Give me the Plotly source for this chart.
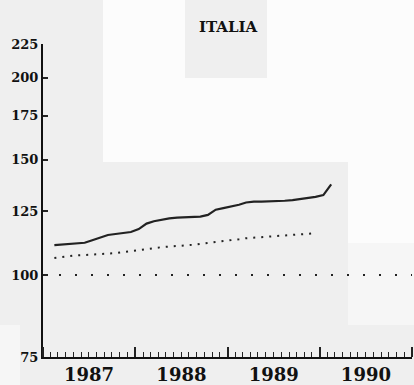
import pandas as pd
import plotly.graph_objects as go

# monthly index values (mid-month)
solid_start = "1987-01-15"
solid_vals = [111.1, 111.3, 111.5, 111.8, 112.0, 113.0, 114.2, 115.1, 115.5, 116.0,
              116.3, 117.5, 119.8, 120.8, 121.5, 122.0, 122.3, 122.5, 122.6, 122.8,
              123.5, 125.8, 126.5, 127.2, 128.0, 129.0, 129.4, 129.4, 129.5, 129.5,
              129.8, 130.1, 130.5, 130.9, 131.6, 132.4, 137.5]

dotted_start = "1987-01-15"
dotted_vals = [106.2, 106.6, 107.0, 107.2, 107.3, 107.5, 107.6, 107.7, 108.0, 108.4,
               108.8, 109.1, 109.4, 110.0, 110.3, 110.5, 110.7, 110.9, 111.2, 111.6,
               111.9, 112.2, 112.6, 113.0, 113.4, 113.8, 114.0, 114.2, 114.4, 114.6,
               114.8, 115.0, 115.3, 115.5, 115.8]

ref_level = 100
y_ticks = [75, 100, 125, 150, 175, 200, 225]
x_range = ["1987-01-01", "1991-01-01"]
title = "ITALIA"

solid_x = pd.date_range(solid_start, periods=len(solid_vals), freq="MS") + pd.Timedelta(days=14)
dotted_x = pd.date_range(dotted_start, periods=len(dotted_vals), freq="MS") + pd.Timedelta(days=14)

ink = "#222"
font = "DejaVu Serif"

fig = go.Figure()
fig.add_trace(go.Scatter(x=solid_x, y=solid_vals, mode="lines",
                         line=dict(color=ink, width=2.2), showlegend=False))
fig.add_trace(go.Scatter(x=dotted_x, y=dotted_vals, mode="lines",
                         line=dict(color=ink, width=2, dash="2px,6px"), showlegend=False))
fig.add_trace(go.Scatter(x=x_range, y=[ref_level, ref_level], mode="lines",
                         line=dict(color=ink, width=2, dash="2px,14px"), showlegend=False))

# scan-like background patches (figure pixels -> paper coords)
L, R, T, B = 43, 412, 44, 357


def patch(x0, x1, y0, y1, color):
    return dict(type="rect", xref="paper", yref="paper", layer="below",
                x0=(x0 - L) / (R - L), x1=(x1 - L) / (R - L),
                y0=(B - y1) / (B - T), y1=(B - y0) / (B - T),
                fillcolor=color, line_width=0)


shapes = [
    patch(103, 185, 0, 162, "#fcfcfc"),
    patch(185, 348, 78, 162, "#fcfcfc"),
    patch(267, 348, 0, 78, "#fcfcfc"),
    patch(348, 414, 0, 243, "#fcfcfc"),
    patch(348, 414, 243, 325, "#f6f6f6"),
    patch(0, 20, 325, 385, "#f6f6f6"),
]

fig.update_layout(
    width=414, height=385,
    margin=dict(l=L, r=414 - R, t=T, b=385 - B, autoexpand=False),
    paper_bgcolor="#efefef",
    plot_bgcolor="rgba(0,0,0,0)",
    shapes=shapes,
    title=dict(text="<b>" + title + "</b>", x=228 / 414, xanchor="center",
               y=1 - 27 / 385, yanchor="middle",
               font=dict(family=font, size=15, color="#111")),
    xaxis=dict(
        type="date", range=x_range, dtick="M12", tick0="1987-01-01",
        ticklabelmode="period", tickformat="<b>%Y</b>", automargin=False,
        ticks="inside", ticklen=10, tickwidth=1.5, tickcolor=ink,
        minor=dict(dtick="M1", ticks="inside", ticklen=5, tickwidth=1, tickcolor=ink),
        showline=True, linecolor="#111", linewidth=2,
        showgrid=False, zeroline=False,
        tickfont=dict(family=font, size=18, color="#111"),
    ),
    yaxis=dict(
        type="log", range=[1.8751, 2.3522], automargin=False,
        tickvals=y_ticks, ticktext=["<b>%d</b>" % v for v in y_ticks],
        ticks="inside", ticklen=5, tickwidth=1.5, tickcolor=ink,
        showline=True, linecolor="#111", linewidth=2,
        showgrid=False, zeroline=False,
        tickfont=dict(family=font, size=13, color="#111"),
    ),
)

# drop the browser's default page margin so the figure sits at 0,0
fig.write_html("out.html", config={"displayModeBar": False},
               post_script="document.body.style.margin='0';")
